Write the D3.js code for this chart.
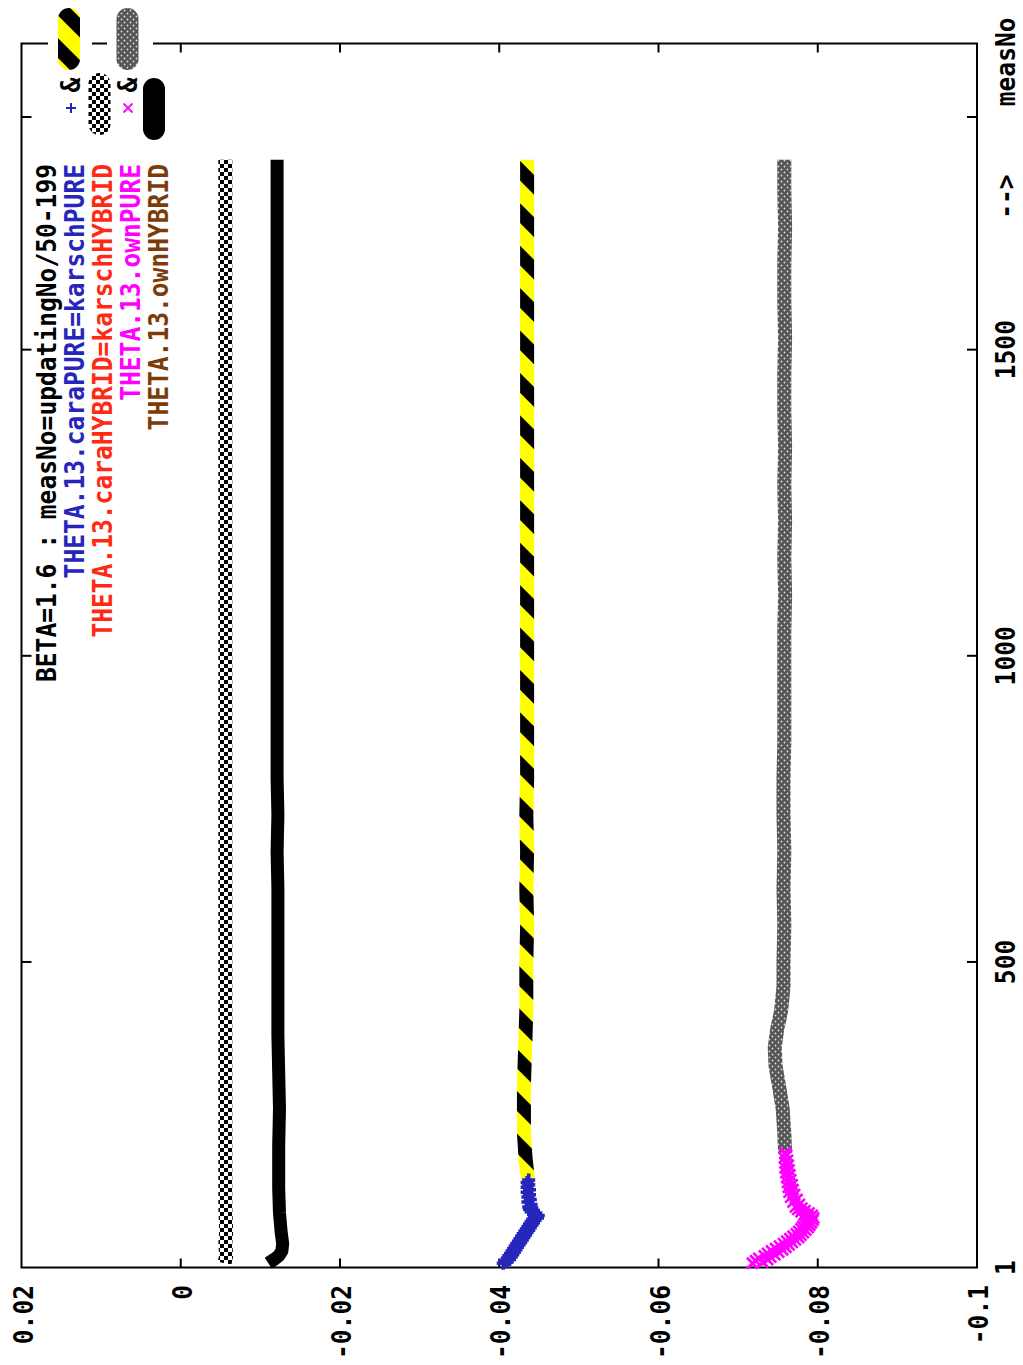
<!DOCTYPE html>
<html>
<head>
<meta charset="utf-8">
<script src="https://cdn.jsdelivr.net/npm/d3@7"></script>
<style>
  body { margin: 0; background: #fff; }
  svg { display: block; }
  text { font-family: "DejaVu Sans Mono", "Liberation Mono", monospace; font-weight: bold; }
</style>
</head>
<body>
<svg id="chart" width="1023" height="1365"></svg>
<script>
// ---- data -------------------------------------------------------------
// karschPURE: single points for the first updates, then the running line
const karschPureMeas = [8,10,12,14,16,18,20,22,24,26,28,30,32,34,36,38,40,42,44,46,48,50,52,54,56,58,60,62,64,66,68,70,72,74,76,78,80,82,84,86,88,90,92,94,96,98,100,104,108,112,116,120,124,128,132,136,140,144];
const karschPureVals = [-0.0405,-0.0410,-0.0408,-0.0413,-0.0410,-0.0415,-0.0412,-0.0417,-0.0414,-0.0419,-0.0416,-0.0421,-0.0418,-0.0423,-0.0420,-0.0425,-0.0422,-0.0427,-0.0424,-0.0429,-0.0426,-0.0431,-0.0428,-0.0433,-0.0430,-0.0435,-0.0432,-0.0437,-0.0434,-0.0439,-0.0436,-0.0441,-0.0438,-0.0443,-0.0440,-0.0445,-0.0442,-0.0448,-0.0444,-0.0449,-0.0443,-0.0446,-0.0440,-0.0443,-0.0438,-0.0441,-0.0437,-0.0440,-0.0436,-0.0439,-0.0436,-0.0438,-0.0435,-0.0438,-0.0435,-0.0437,-0.0435,-0.0437];
const karschPureLineMeas = [146,180,220,260,300,340,380,420,460,500,560,620,680,740,800,860,920,980,1040,1100,1160,1220,1280,1340,1400,1460,1520,1580,1640,1700,1760,1810];
const karschPureLineVals = [-0.0436,-0.0433,-0.0431,-0.0431,-0.0431,-0.0432,-0.0433,-0.0434,-0.0434,-0.0434,-0.0435,-0.0434,-0.0435,-0.0434,-0.0435,-0.0435,-0.0435,-0.0435,-0.0435,-0.0435,-0.0435,-0.0435,-0.0435,-0.0435,-0.0435,-0.0435,-0.0435,-0.0435,-0.0435,-0.0435,-0.0435,-0.0435];

// karschHYBRID
const karschHybridMeas = [8,20,40,60,100,150,200,260,320,380,440,500,560,620,680,740,800,860,920,980,1040,1100,1160,1220,1280,1340,1400,1460,1520,1580,1640,1700,1760,1810];
const karschHybridVals = [-0.0055,-0.0057,-0.0056,-0.0057,-0.0056,-0.0056,-0.0056,-0.0056,-0.0056,-0.0056,-0.0056,-0.0056,-0.0056,-0.0056,-0.0056,-0.0056,-0.0056,-0.0056,-0.0056,-0.0056,-0.0056,-0.0056,-0.0056,-0.0056,-0.0056,-0.0056,-0.0056,-0.0056,-0.0056,-0.0056,-0.0056,-0.0056,-0.0056,-0.0056];

// ownPURE: single points for the first updates, then the running line
const ownPureMeas = [8,10,12,14,16,18,20,22,24,26,28,30,32,34,36,38,40,42,44,46,48,50,52,54,56,58,60,62,64,66,68,70,72,74,76,78,80,82,84,86,88,90,92,94,96,98,100,104,108,112,116,120,124,128,132,136,140,144,148,152,156,160,164,168,172,176,180,184,188];
const ownPureVals = [-0.0718,-0.0731,-0.0722,-0.0737,-0.0726,-0.0741,-0.0733,-0.0746,-0.0737,-0.0751,-0.0742,-0.0756,-0.0747,-0.0760,-0.0752,-0.0764,-0.0757,-0.0768,-0.0761,-0.0772,-0.0765,-0.0776,-0.0769,-0.0779,-0.0773,-0.0782,-0.0776,-0.0785,-0.0779,-0.0788,-0.0781,-0.0790,-0.0783,-0.0792,-0.0785,-0.0794,-0.0787,-0.0795,-0.0788,-0.0793,-0.0784,-0.0789,-0.0779,-0.0784,-0.0775,-0.0780,-0.0772,-0.0777,-0.0769,-0.0774,-0.0766,-0.0771,-0.0764,-0.0769,-0.0763,-0.0768,-0.0762,-0.0766,-0.0761,-0.0765,-0.0760,-0.0764,-0.0759,-0.0763,-0.0759,-0.0762,-0.0758,-0.0761,-0.0759];
const ownPureLineMeas = [188,220,260,300,330,360,390,420,460,500,560,620,680,740,800,860,920,980,1040,1100,1160,1220,1280,1340,1400,1460,1520,1580,1640,1700,1760,1810];
const ownPureLineVals = [-0.0759,-0.0758,-0.0756,-0.0751,-0.0747,-0.0746,-0.0749,-0.0754,-0.0757,-0.0757,-0.0758,-0.0757,-0.0758,-0.0757,-0.0757,-0.0758,-0.0758,-0.0758,-0.0758,-0.0759,-0.0758,-0.0759,-0.0758,-0.0759,-0.0758,-0.0758,-0.0759,-0.0758,-0.0758,-0.0759,-0.0758,-0.0758];

// ownHYBRID
const ownHybridMeas = [8,14,20,28,40,60,90,130,200,260,320,380,440,500,560,620,680,740,800,860,920,980,1040,1100,1160,1220,1280,1340,1400,1460,1520,1580,1640,1700,1760,1810];
const ownHybridVals = [-0.0110,-0.0117,-0.0123,-0.0127,-0.0128,-0.0126,-0.0124,-0.0123,-0.0123,-0.0124,-0.0123,-0.0122,-0.0122,-0.0122,-0.0122,-0.0122,-0.0121,-0.0122,-0.0121,-0.0121,-0.0121,-0.0121,-0.0121,-0.0121,-0.0121,-0.0121,-0.0121,-0.0121,-0.0121,-0.0121,-0.0121,-0.0121,-0.0121,-0.0121,-0.0121,-0.0121];

// axes
const valueTicks = [0.02, 0, -0.02, -0.04, -0.06, -0.08, -0.1];
const valueTickLabels = ["0.02", "0", "-0.02", "-0.04", "-0.06", "-0.08", "-0.1"];
const measTickMarks = [500, 1000, 1500, 1880];
const measTickPos = [1, 500, 1000, 1500, 1750, 1970];
const measTickLabels = ["1", "500", "1000", "1500", "-->", "measNo"];

// key
const titleText = "BETA=1.6 : measNo=updatingNo/50-199";
const keyLabels = ["THETA.13.caraPURE=karschPURE", "THETA.13.caraHYBRID=karschHYBRID", "THETA.13.ownPURE", "THETA.13.ownHYBRID"];
const keyColors = ["#2626bc", "#ff2a14", "#ff00ff", "#7c3c0a"];

// ---- drawing ----------------------------------------------------------
const svg = d3.select("#chart");
const L = 21.5, R = 977, T = 43.5, B = 1267.5;

// page is laid out sideways: values run left->right, measNo runs bottom->top
const v = d3.scaleLinear().domain([0.02, -0.1]).range([L, R]);
const m = d3.scaleLinear().domain([1, 2000]).range([B, T]);

const defs = svg.append("defs");
const hazard = defs.append("pattern").attr("id", "hazard")
  .attr("patternUnits", "userSpaceOnUse").attr("width", 30).attr("height", 30)
  .attr("patternTransform", "rotate(-45)");
hazard.append("rect").attr("width", 14).attr("height", 30).attr("fill", "#000");
hazard.append("rect").attr("x", 14).attr("width", 16).attr("height", 30).attr("fill", "#ffff00");

const checker = defs.append("pattern").attr("id", "checker")
  .attr("patternUnits", "userSpaceOnUse").attr("width", 8).attr("height", 8);
checker.append("rect").attr("width", 8).attr("height", 8).attr("fill", "#fff");
checker.append("rect").attr("width", 4).attr("height", 4).attr("fill", "#000");
checker.append("rect").attr("x", 4).attr("y", 4).attr("width", 4).attr("height", 4).attr("fill", "#000");

const grain = defs.append("pattern").attr("id", "grain")
  .attr("patternUnits", "userSpaceOnUse").attr("width", 6).attr("height", 6);
grain.append("rect").attr("width", 6).attr("height", 6).attr("fill", "#555");
grain.append("circle").attr("cx", 1.5).attr("cy", 1.5).attr("r", 0.9).attr("fill", "#ddd");
grain.append("circle").attr("cx", 4.5).attr("cy", 4.5).attr("r", 0.9).attr("fill", "#ddd");

function vtext(x, y, str, opts) {
  const t = svg.append("text")
    .attr("transform", `translate(${x},${y}) rotate(-90)`)
    .attr("text-anchor", opts.anchor || "start")
    .attr("font-size", opts.size || 26)
    .attr("fill", opts.color || "#000")
    .text(str);
  if (opts.len) t.attr("textLength", opts.len).attr("lengthAdjust", "spacingAndGlyphs");
  return t;
}

const zip = (ms, vs) => ms.map((d, i) => ({ m: d, v: vs[i] }));
const line = d3.line().x(d => v(d.v)).y(d => m(d.m));

// border
svg.append("rect").attr("x", L).attr("y", T).attr("width", R - L).attr("height", B - T)
  .attr("fill", "none").attr("stroke", "#000").attr("stroke-width", 2);

// value ticks on bottom and top borders
valueTicks.slice(1, -1).forEach(t => {
  svg.append("line").attr("x1", v(t)).attr("x2", v(t)).attr("y1", B).attr("y2", B - 9)
    .attr("stroke", "#000").attr("stroke-width", 2);
  svg.append("line").attr("x1", v(t)).attr("x2", v(t)).attr("y1", T).attr("y2", T + 9)
    .attr("stroke", "#000").attr("stroke-width", 2);
});
valueTicks.forEach((t, i) => {
  const s = valueTickLabels[i];
  vtext(v(t) + 11, 1285, s, { anchor: "end", len: s.length * 14.8 });
});

// measNo ticks on left and right borders
measTickMarks.forEach(t => {
  svg.append("line").attr("x1", L).attr("x2", L + 10).attr("y1", m(t)).attr("y2", m(t))
    .attr("stroke", "#000").attr("stroke-width", 2);
  svg.append("line").attr("x1", R).attr("x2", R - 10).attr("y1", m(t)).attr("y2", m(t))
    .attr("stroke", "#000").attr("stroke-width", 2);
});
measTickPos.forEach((t, i) => {
  const s = measTickLabels[i];
  vtext(1015, m(t), s, { anchor: "middle", len: s.length * 14.8 });
});

// series lines
const lineStyle = (sel, paint) => sel.attr("fill", "none").attr("stroke", paint)
  .attr("stroke-width", 14).attr("stroke-linejoin", "round").attr("stroke-linecap", "butt");

lineStyle(svg.append("path").attr("d", line(zip(karschHybridMeas, karschHybridVals))), "url(#checker)");
lineStyle(svg.append("path").attr("d", line(zip(ownHybridMeas, ownHybridVals))), "#000").attr("stroke-width", 13);
lineStyle(svg.append("path").attr("d", line(zip(karschPureLineMeas, karschPureLineVals))), "url(#hazard)");
lineStyle(svg.append("path").attr("d", line(zip(ownPureLineMeas, ownPureLineVals))), "url(#grain)");

// point markers
const plus = (x, y, r) => `M${x - r},${y}h${2 * r}M${x},${y - r}v${2 * r}`;
const cross = (x, y, r) => `M${x - r},${y - r}l${2 * r},${2 * r}M${x - r},${y + r}l${2 * r},${-2 * r}`;

svg.append("g").selectAll("path").data(zip(karschPureMeas, karschPureVals)).join("path")
  .attr("d", d => plus(v(d.v), m(d.m), 6.5))
  .attr("stroke", keyColors[0]).attr("stroke-width", 3.5).attr("fill", "none");
svg.append("g").selectAll("path").data(zip(ownPureMeas, ownPureVals)).join("path")
  .attr("d", d => cross(v(d.v), m(d.m), 5.5))
  .attr("stroke", keyColors[2]).attr("stroke-width", 2.6).attr("fill", "none");

// key: boxes that sit over the top border, then the samples
svg.append("rect").attr("x", 48).attr("y", 0).attr("width", 44).attr("height", 74).attr("fill", "#fff");
svg.append("rect").attr("x", 107).attr("y", 0).attr("width", 46).attr("height", 74).attr("fill", "#fff");

const pill = (x, y1, y2, paint) => svg.append("line")
  .attr("x1", x).attr("x2", x).attr("y1", y1).attr("y2", y2)
  .attr("stroke", paint).attr("stroke-width", 22).attr("stroke-linecap", "round");
pill(69, 19, 59, "url(#hazard)");
pill(127.5, 19, 59, "url(#grain)");
pill(99.5, 84, 124, "url(#checker)");
pill(154, 89, 129, "#000");

svg.append("path").attr("d", plus(71, 108, 5)).attr("stroke", keyColors[0]).attr("stroke-width", 2).attr("fill", "none");
svg.append("path").attr("d", cross(128, 108, 4.5)).attr("stroke", keyColors[2]).attr("stroke-width", 1.8).attr("fill", "none");
vtext(80, 85, "&", { anchor: "middle", size: 26, len: 15 });
vtext(137, 85, "&", { anchor: "middle", size: 26, len: 15 });

// key text
vtext(56, 164, titleText, { anchor: "end", len: titleText.length * 14.8 });
keyLabels.forEach((s, i) => {
  vtext(84 + i * 28, 164, s, { anchor: "end", color: keyColors[i], len: s.length * 14.8 });
});
</script>
</body>
</html>
